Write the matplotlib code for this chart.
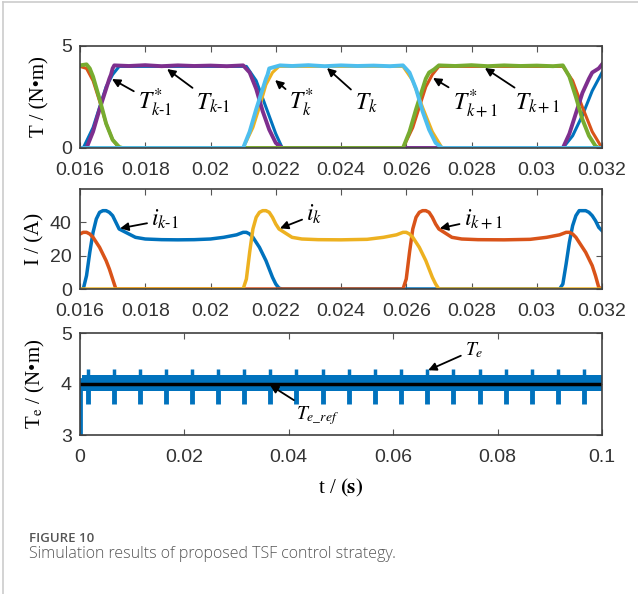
import matplotlib
matplotlib.use('Agg')
import matplotlib.pyplot as plt
from matplotlib.lines import Line2D

plt.rcParams['font.family'] = 'Liberation Sans'
plt.rcParams['mathtext.fontset'] = 'stix'

""" DATA """

# top panel: phase torques (reference T* and actual T)
t_ref_km1 = [0.016, 0.0161, 0.0164, 0.0166, 0.0168, 0.0170, 0.0172, 0.0211, 0.0214, 0.0217, 0.0220, 0.0222,
             0.0308, 0.0311, 0.0314, 0.0317, 0.0320]
T_ref_km1 = [0, 0, 1.0, 2.0, 3.0, 3.6, 4.0, 4.0, 3.3, 2.0, 0.7, 0, 0, 0.6, 1.6, 2.8, 3.7]
t_ref_kp1 = [0.016, 0.0162, 0.0164, 0.0166, 0.0168, 0.0170, 0.0172, 0.0259, 0.0262, 0.0264, 0.0266, 0.0268,
             0.0270, 0.0308, 0.0311, 0.0314, 0.0317, 0.0320]
T_ref_kp1 = [4.0, 3.9, 3.3, 2.3, 1.2, 0.4, 0, 0, 1.0, 2.0, 3.0, 3.6, 4.0, 4.0, 3.3, 2.0, 0.8, 0]
t_ref_k = [0.016, 0.0210, 0.0213, 0.0215, 0.0217, 0.0219, 0.0221, 0.0259, 0.0262, 0.0265, 0.0268, 0.0271, 0.032]
T_ref_k = [0, 0, 1.0, 2.0, 3.1, 3.7, 4.0, 4.0, 3.3, 2.0, 0.8, 0, 0]

t_km1 = [0.016, 0.0162, 0.0164, 0.0166, 0.0168, 0.0169, 0.01695, 0.0170, 0.01705, 0.0175, 0.0180, 0.0185,
         0.0190, 0.0195, 0.0200, 0.0205, 0.0210, 0.0212, 0.0214, 0.0216, 0.0218, 0.0220, 0.0222, 0.0308,
         0.0310, 0.0312, 0.0314, 0.0316, 0.0317, 0.0318, 0.0319, 0.0320]
T_km1 = [0, 0, 0.8, 1.9, 2.9, 3.4, 3.6, 3.9, 4.05, 4.02, 4.06, 4.01, 4.05, 4.02, 4.04, 4.01, 4.05, 3.7, 2.9,
         1.8, 0.9, 0.25, 0, 0, 0.7, 1.7, 2.7, 3.4, 3.7, 3.8, 3.9, 4.1]
t_kp1 = [0.016, 0.0162, 0.0163, 0.0164, 0.0166, 0.0168, 0.0170, 0.0172, 0.0173, 0.0259, 0.0261, 0.0263,
         0.0265, 0.0266, 0.0267, 0.02685, 0.0270, 0.0275, 0.0280, 0.0285, 0.0290, 0.0295, 0.0300, 0.0305,
         0.0308, 0.0310, 0.0312, 0.0314, 0.0316, 0.0318, 0.0319, 0.032]
T_kp1 = [4.05, 4.1, 3.9, 3.5, 2.4, 1.2, 0.4, 0.05, 0, 0, 0.8, 1.9, 2.9, 3.4, 3.7, 3.85, 4.05, 4.02, 4.06,
         4.01, 4.05, 4.02, 4.04, 4.01, 4.05, 3.5, 2.5, 1.4, 0.6, 0.1, 0, 0]
t_k = [0.016, 0.0210, 0.0212, 0.0214, 0.0216, 0.0217, 0.02175, 0.0218, 0.02213, 0.0225, 0.0230, 0.0235,
       0.0240, 0.0245, 0.0250, 0.0255, 0.0259, 0.0261, 0.0263, 0.0265, 0.0267, 0.0269, 0.0271, 0.032]
T_k = [0, 0, 0.8, 1.9, 2.9, 3.4, 3.6, 3.9, 4.05, 4.02, 4.06, 4.01, 4.05, 4.02, 4.04, 4.01, 4.05, 3.7, 2.9,
       1.8, 0.9, 0.25, 0, 0]

# middle panel: phase currents
t_i_km1 = [0.016, 0.0161, 0.0162, 0.0163, 0.0164, 0.0165, 0.0166, 0.0167, 0.0168, 0.0169, 0.0170, 0.0171,
           0.0172, 0.0173, 0.0175, 0.0177, 0.0180, 0.0185, 0.0190, 0.0195, 0.0200, 0.0204, 0.0208, 0.0210,
           0.0211, 0.0212, 0.0213, 0.0214, 0.0215, 0.0216, 0.0217, 0.0218, 0.0219, 0.0220, 0.0221, 0.0222,
           0.0307, 0.0308, 0.0309, 0.0310, 0.0311, 0.0312, 0.0313, 0.0314, 0.0315, 0.0316, 0.0317, 0.0318,
           0.0319, 0.0320]
i_km1 = [0, 0, 8, 22, 34, 42, 46, 47, 47, 46, 44, 40, 36, 35, 33, 31, 30, 29.6, 29.5, 29.6, 30, 31, 32.5,
         34, 34, 33, 31, 28, 25, 21, 17, 12, 7, 3, 0.5, 0, 0, 3, 15, 28, 38, 44, 47, 47, 47, 46, 44, 41, 37, 35]
t_i_kp1 = [0.016, 0.0161, 0.0162, 0.0163, 0.0164, 0.0165, 0.0166, 0.0167, 0.0168, 0.0169, 0.0170, 0.0171,
           0.0259, 0.0260, 0.0261, 0.0262, 0.0263, 0.0264, 0.0265, 0.0266, 0.0267, 0.0268, 0.0269, 0.0270,
           0.0272, 0.0274, 0.0277, 0.0282, 0.0290, 0.0298, 0.0303, 0.0307, 0.0309, 0.0310, 0.0311, 0.0312,
           0.0313, 0.0314, 0.0315, 0.0316, 0.0317, 0.0318, 0.0319, 0.0320]
i_kp1 = [33, 34, 34, 33, 31, 28, 25, 21, 17, 12, 6, 0, 0, 6, 22, 36, 43, 46, 47, 47, 46, 43, 39, 36, 33.5,
         31, 30, 29.6, 29.5, 29.8, 31, 32.5, 34, 34, 33, 31, 28, 25, 22, 18, 14, 8, 1, 0]
t_i_k = [0.016, 0.0210, 0.0211, 0.0212, 0.0213, 0.0214, 0.0215, 0.0216, 0.0217, 0.0218, 0.0219, 0.0220,
         0.0221, 0.0223, 0.0225, 0.0228, 0.0233, 0.0240, 0.0248, 0.0253, 0.0257, 0.0259, 0.0260, 0.0261,
         0.0262, 0.0263, 0.0264, 0.0265, 0.0266, 0.0267, 0.0268, 0.0269, 0.0270, 0.0320]
i_k = [0, 0, 6, 22, 36, 43, 46, 47, 47, 46, 43, 39, 36, 33.5, 31, 30, 29.6, 29.5, 29.8, 31, 32.5, 34, 34,
       33, 31, 28, 25, 21, 17, 12, 7, 3, 0, 0]

# bottom panel: total torque
te_ref_t = [0, 0.1]
te_ref = [4.0, 4.0]
te_band_t = [0.0003, 0.1]
te_band_lo = [3.87, 3.87]
te_band_hi = [4.17, 4.17]
te_start_t = [0.0002, 0.0002]
te_start = [3.0, 4.1]
spike_t = [0.0015, 0.0065, 0.0114, 0.0164, 0.0214, 0.0264, 0.0314, 0.0364, 0.0414, 0.0465,
           0.0515, 0.0566, 0.0615, 0.0665, 0.0715, 0.0766, 0.0816, 0.0866, 0.0916, 0.0966]
spike_hi = 4.30
spike_lo = 3.60

zoom_ticks = [0.016, 0.018, 0.020, 0.022, 0.024, 0.026, 0.028, 0.030, 0.032]
zoom_labels = ['0.016', '0.018', '0.02', '0.022', '0.024', '0.026', '0.028', '0.03', '0.032']
full_ticks = [0, 0.02, 0.04, 0.06, 0.08, 0.1]
full_labels = ['0', '0.02', '0.04', '0.06', '0.08', '0.1']

""" STYLE """

c_blue = '#0072BD'
c_orange = '#D95319'
c_yellow = '#EDB120'
c_purple = '#7E2F8E'
c_green = '#77AC30'
c_lblue = '#4DBEEE'
tick_color = '#333333'
serif = 'Liberation Serif'

W, H = 638, 594
fig = plt.figure(figsize=(W / 100, H / 100), dpi=100)


def add_axes(top_px, bottom_px):
    return fig.add_axes([80 / W, 1 - bottom_px / H, 522 / W, (bottom_px - top_px) / H])


def style_axes(ax):
    for s in ax.spines.values():
        s.set_color('#404040')
        s.set_linewidth(1.2)
    ax.tick_params(direction='in', top=True, right=True, length=4, width=0.8, color='#555555',
                   labelsize=14, labelcolor=tick_color)
    ax.tick_params(axis='x', pad=10)
    ax.tick_params(axis='y', pad=6)


def note(ax, text, xy, xytext, size):
    ax.annotate(text, xy=xy, xytext=xytext, ha='center', va='center', fontsize=size,
                arrowprops=dict(arrowstyle='-|>', color='k', lw=1.3, mutation_scale=12,
                                shrinkA=1, shrinkB=0))


# ---- top: torques
ax0 = add_axes(46, 148)
ax0.plot(t_ref_km1, T_ref_km1, color=c_blue, lw=2.2)
ax0.plot(t_ref_kp1, T_ref_kp1, color=c_orange, lw=2.2)
ax0.plot(t_ref_k, T_ref_k, color=c_yellow, lw=2.2)
ax0.plot(t_km1, T_km1, color=c_purple, lw=2.8)
ax0.plot(t_kp1, T_kp1, color=c_green, lw=2.8)
ax0.plot(t_k, T_k, color=c_lblue, lw=2.8)
ax0.set_xlim(0.016, 0.032)
ax0.set_ylim(0, 5)
ax0.set_xticks(zoom_ticks)
ax0.set_xticklabels(zoom_labels)
ax0.set_yticks([0, 5])
ax0.set_ylabel('T / (N•m)', family=serif, fontsize=15, labelpad=8)
style_axes(ax0)
note(ax0, r'$T^{*}_{k\text{-}1}$', (0.01698, 3.38), (0.01830, 2.2), 17)
note(ax0, r'$T_{k\text{-}1}$', (0.01867, 3.87), (0.02008, 2.2), 17)
note(ax0, r'$T^{*}_{k}$', (0.02198, 3.33), (0.02280, 2.2), 17)
note(ax0, r'$T_{k}$', (0.02357, 3.92), (0.02477, 2.2), 17)
note(ax0, r'$T^{*}_{k+1}$', (0.02682, 3.43), (0.02811, 2.2), 17)
note(ax0, r'$T_{k+1}$', (0.02841, 3.92), (0.03004, 2.2), 17)

# ---- middle: currents
ax1 = add_axes(189, 289)
ax1.plot(t_i_km1, i_km1, color=c_blue, lw=2.5)
ax1.plot(t_i_kp1, i_kp1, color=c_orange, lw=2.5)
ax1.plot(t_i_k, i_k, color=c_yellow, lw=2.5)
ax1.set_xlim(0.016, 0.032)
ax1.set_ylim(0, 60)
ax1.set_xticks(zoom_ticks)
ax1.set_xticklabels(zoom_labels)
ax1.set_yticks([0, 20, 40])
ax1.set_ylabel('I / (A)', family=serif, fontsize=15, labelpad=4)
style_axes(ax1)
note(ax1, r'$i_{k\text{-}1}$', (0.01723, 36.4), (0.01861, 41.5), 17)
note(ax1, r'$i_{k}$', (0.02213, 36.4), (0.02318, 44.5), 17)
note(ax1, r'$i_{k+1}$', (0.02703, 36.4), (0.02835, 42.0), 17)

# ---- bottom: total torque
ax2 = add_axes(333, 435)
ax2.fill_between(te_band_t, te_band_lo, te_band_hi, color=c_blue, lw=0)
ax2.plot(te_start_t, te_start, color=c_blue, lw=2)
ax2.vlines(spike_t, te_band_lo[0], spike_hi, color=c_blue, lw=2.5)
ax2.vlines(spike_t, spike_lo, te_band_hi[0], color=c_blue, lw=3.5)
ax2.plot(te_ref_t, te_ref, color='k', lw=2.5)
ax2.set_xlim(0, 0.1)
ax2.set_ylim(3, 5)
ax2.set_xticks(full_ticks)
ax2.set_xticklabels(full_labels)
ax2.set_yticks([3, 4, 5])
ax2.set_ylabel(r'T$_{\mathrm{e}}$ / (N•m)', family=serif, fontsize=15, labelpad=10)
ax2.set_xlabel(r't / $\mathbf{(s)}$', family=serif, fontsize=15, labelpad=8)
style_axes(ax2)
note(ax2, r'$T_{e}$', (0.0667, 4.27), (0.0755, 4.67), 14)
note(ax2, r'$T_{e\_ref}$', (0.0364, 3.98), (0.0455, 3.39), 14)

# card frame and caption
fig.add_artist(Line2D([3 / W, 3 / W], [0, 1 - 2 / H], color='#cccccc', lw=1.2))
fig.add_artist(Line2D([3 / W, 1], [1 - 2 / H, 1 - 2 / H], color='#cccccc', lw=1.2))
fig.text(29 / W, 1 - 538 / H, 'FIGURE 10', family='Open Sans', fontsize=9.5, color='#555555',
         fontweight='semibold', va='center')
fig.text(29 / W, 1 - 554 / H, 'Simulation results of proposed TSF control strategy.',
         family='Open Sans', fontsize=11.5, color='#555555', fontweight='light', va='center')

fig.savefig('out.png', dpi=100)
